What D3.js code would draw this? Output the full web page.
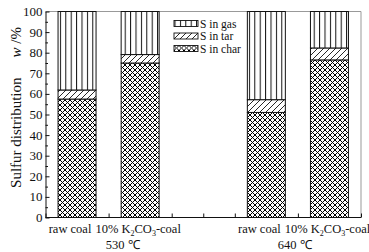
<!DOCTYPE html>
<html>
<head>
<meta charset="utf-8">
<script src="https://cdn.jsdelivr.net/npm/d3@7"></script>
<style>
  body { margin: 0; background: #fff; }
  text { font-family: "Liberation Serif", "Times New Roman", serif; fill: #111; }
</style>
</head>
<body>
<div id="chart"></div>
<script>
// data
const bars = ["raw coal 530", "K2CO3 530", "raw coal 640", "K2CO3 640"];
const barPos = [1, 3, 7, 9];            // position on the x scale (units)
const sChar = [57.5, 75.0, 51.0, 76.5];
const sTar = [4.4, 4.1, 6.2, 5.8];
const sGas = [38.1, 20.9, 42.8, 17.7];
const series = ["S in gas", "S in tar", "S in char"];
const yTicks = [0, 10, 20, 30, 40, 50, 60, 70, 80, 90, 100];
const groupLabels = ["530 ℃", "640 ℃"];
const groupPos = [2.45, 7.9];

const W = 369, H = 252;
const margin = { top: 11.5, right: 8, bottom: 34.5, left: 45.5 };

const svg = d3.select("#chart").append("svg")
  .attr("width", W)
  .attr("height", H);

const x = d3.scaleLinear().domain([0, 10]).range([margin.left, W - margin.right]);
const y = d3.scaleLinear().domain([0, 100]).range([H - margin.bottom, margin.top]);

// hatch patterns
const defs = svg.append("defs");
const pGas = defs.append("pattern").attr("id", "gas")
  .attr("patternUnits", "userSpaceOnUse").attr("width", 5.4).attr("height", 10)
  .attr("x", 0.5);
pGas.append("rect").attr("width", 5.4).attr("height", 10).attr("fill", "#fff");
pGas.append("line").attr("x1", 0.5).attr("x2", 0.5).attr("y1", 0).attr("y2", 10)
  .attr("stroke", "#111").attr("stroke-width", 1);

const pTar = defs.append("pattern").attr("id", "tar")
  .attr("patternUnits", "userSpaceOnUse").attr("width", 6).attr("height", 6);
pTar.append("rect").attr("width", 6).attr("height", 6).attr("fill", "#fff");
pTar.append("path").attr("d", "M-1,1 l2,-2 M0,6 l6,-6 M5,7 l2,-2")
  .attr("stroke", "#111").attr("stroke-width", 0.9);

const pChar = defs.append("pattern").attr("id", "char")
  .attr("patternUnits", "userSpaceOnUse").attr("width", 5).attr("height", 5);
pChar.append("rect").attr("width", 5).attr("height", 5).attr("fill", "#fff");
pChar.append("path").attr("d", "M0,0 L5,5 M5,0 L0,5")
  .attr("stroke", "#000").attr("stroke-width", 1);

const fills = { "S in gas": "url(#gas)", "S in tar": "url(#tar)", "S in char": "url(#char)" };

// frame
svg.append("path")
  .attr("d", `M${x(0)},${y(100)} H${x(10)} V${y(0)}`)
  .attr("fill", "none").attr("stroke", "#999").attr("stroke-width", 1);

// x axis ticks (inward)
svg.append("g")
  .attr("transform", `translate(0,${y(0)})`)
  .call(d3.axisBottom(x).ticks(10).tickSize(-4).tickFormat(""))
  .call(g => g.selectAll("line").attr("stroke", "#111"))
  .call(g => g.select(".domain").remove());

// stacked bars
const bw = 38;
const stackData = bars.map((b, i) => ({ char: sChar[i], tar: sTar[i], gas: sGas[i] }));
const stack = d3.stack().keys(["char", "tar", "gas"])(stackData);
const keyName = { char: "S in char", tar: "S in tar", gas: "S in gas" };

stack.forEach(layer => {
  svg.append("g").selectAll("rect")
    .data(layer)
    .join("rect")
      .attr("x", (d, i) => x(barPos[i]) - bw / 2)
      .attr("y", d => y(d[1]))
      .attr("width", bw)
      .attr("height", d => y(d[0]) - y(d[1]))
      .attr("fill", fills[keyName[layer.key]])
      .attr("stroke", "#111")
      .attr("stroke-width", 1);
});

// y axis
svg.append("g")
  .attr("transform", `translate(${x(0)},0)`)
  .call(d3.axisLeft(y).tickValues(d3.range(0, 101, 5)).tickSize(0).tickFormat(""))
  .call(g => g.select(".domain").attr("stroke", "#111"))
  .call(g => g.selectAll(".tick line")
    .attr("x2", d => d % 10 === 0 ? 4 : 2.5)
    .attr("stroke", "#111"));

svg.append("g").selectAll("text")
  .data(yTicks)
  .join("text")
    .attr("x", x(0) - 3)
    .attr("y", d => y(d))
    .attr("dy", "0.35em")
    .attr("text-anchor", "end")
    .style("font-size", "13px")
    .text(d => d);

// bottom axis line
svg.append("line")
  .attr("x1", x(0)).attr("x2", x(10))
  .attr("y1", y(0)).attr("y2", y(0))
  .attr("stroke", "#111");

// y axis title
const yt = svg.append("text")
  .attr("transform", `translate(21,${(y(0) + y(100)) / 2 - 7}) rotate(-90)`)
  .attr("text-anchor", "middle")
  .style("font-size", "15px");
yt.append("tspan").text("Sulfur distribution");
yt.append("tspan").attr("dx", 20).style("font-style", "italic").text("w");
yt.append("tspan").text(" /%");

// x labels
const catNames = ["raw coal", "10% K2CO3-coal", "raw coal", "10% K2CO3-coal"];
catNames.forEach((name, i) => {
  const t = svg.append("text")
    .attr("x", x(barPos[i]) + (i % 2 === 0 ? -7 : -2))
    .attr("y", y(0) + 15)
    .attr("text-anchor", "middle")
    .style("font-size", "12.5px");
  if (name.includes("K2CO3")) {
    t.append("tspan").text("10% K");
    t.append("tspan").attr("dy", 3).style("font-size", "8px").text("2");
    t.append("tspan").attr("dy", -3).text("CO");
    t.append("tspan").attr("dy", 3).style("font-size", "8px").text("3");
    t.append("tspan").attr("dy", -3).text("-coal");
  } else {
    t.text(name);
  }
});

svg.append("g").selectAll("text")
  .data(groupLabels)
  .join("text")
    .attr("x", (d, i) => x(groupPos[i]))
    .attr("y", y(0) + 31)
    .attr("text-anchor", "middle")
    .style("font-size", "12.5px")
    .text(d => d);

// legend
const legend = svg.append("g").attr("transform", "translate(174,20.5)");
series.forEach((s, i) => {
  const row = legend.append("g").attr("transform", `translate(0,${i * 12.5})`);
  row.append("rect")
    .attr("width", 24).attr("height", 6)
    .attr("fill", fills[s]).attr("stroke", "#111").attr("stroke-width", 0.9);
  row.append("text")
    .attr("x", 26).attr("y", 3)
    .attr("dy", "0.35em")
    .style("font-size", "11.5px")
    .text(s);
});
</script>
</body>
</html>
